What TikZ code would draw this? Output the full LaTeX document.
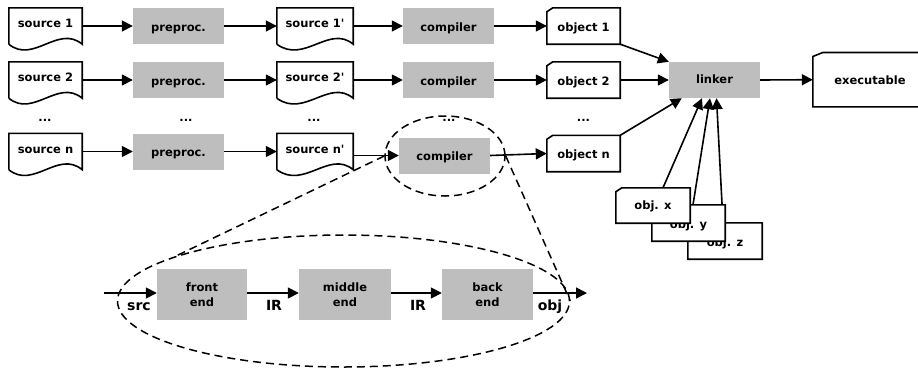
\documentclass[tikz,border=0pt]{standalone}
\usepackage{fontspec}
\setmainfont{DejaVu Sans}
\usetikzlibrary{arrows.meta,shapes.geometric}
\definecolor{procgray}{RGB}{190,190,190}
\pgfdeclarelayer{background}
\pgfsetlayers{background,main}
\newcommand\docoutline[1]{\draw[outl] (#1.south west) -- (#1.north west) -- (#1.north east) -- (#1.south east) .. controls ([shift={(-24pt,20pt)}]#1.south east) and ([shift={(-49pt,-20pt)}]#1.south east) .. (#1.south west);}
\newcommand\objoutline[3]{\draw[outl] ([yshift=-#3]#1.north west) -- ([xshift=#2]#1.north west) -- (#1.north east) -- (#1.south east) -- (#1.south west) -- cycle;}
\begin{document}
\begin{tikzpicture}[x=1pt,y=-1pt,
  txt/.style={font=\fontsize{11.5}{14.7}\selectfont\bfseries},
  proc/.style={txt, fill=procgray, minimum width=91pt, minimum height=36pt, inner sep=0pt, text height=11pt, text depth=1pt},
  doc/.style={txt, minimum width=73pt, minimum height=36pt, inner sep=0pt, text height=6pt, text depth=2.4pt},
  obj/.style={txt, fill=white, minimum width=73pt, minimum height=36pt, inner sep=0pt, text height=11pt, text depth=1pt},
  stage/.style={txt, fill=procgray, minimum width=90pt, minimum height=51pt, inner sep=0pt, align=center},
  lbl/.style={font=\fontsize{14}{16}\selectfont\bfseries, anchor=base, inner sep=0pt},
  dots/.style={txt, anchor=base, inner sep=0pt},
  arr/.style={line width=1.6pt, -{Triangle[length=11pt,width=11pt]}},
  outl/.style={line width=1.6pt},
  dsh/.style={line width=1.5pt, dash pattern=on 8pt off 5pt},
  ell/.style={ellipse, dsh, draw, inner sep=0pt}]
\useasboundingbox (0,0) rectangle (918,368);

% zoom ellipses
\node[ell, minimum width=120pt, minimum height=80pt] (sell) at (445,156) {};
\node[ell, minimum width=452pt, minimum height=132pt] (bell) at (343.5,301) {};
\draw[dsh] (sell.west) -- (bell.165);
\draw[dsh] (sell.east) -- (bell.east);

% sources
\node[doc] (s1) at (45.5,26) {source 1};
\docoutline{s1}
\node[doc] (s2) at (45.5,80) {source 2};
\docoutline{s2}
\node[doc] (sn) at (45.5,151.5) {source n};
\docoutline{sn}

% preprocessors
\node[proc] (p1) at (178.5,26) {preproc.};
\node[proc] (p2) at (178.5,80) {preproc.};
\node[proc] (pn) at (178.5,151.5) {preproc.};

% preprocessed sources
\node[doc, minimum width=76pt] (t1) at (315,26) {source 1\textquotesingle};
\docoutline{t1}
\node[doc, minimum width=76pt] (t2) at (315,80) {source 2\textquotesingle};
\docoutline{t2}
\node[doc, minimum width=76pt] (tn) at (315,151.5) {source n\textquotesingle};
\docoutline{tn}

% compilers
\node[proc] (c1) at (448.5,26) {compiler};
\node[proc] (c2) at (448.5,80) {compiler};
\node[proc] (cn) at (444.5,155.5) {compiler};

% objects
\node[obj] (o1) at (583.5,26) {object 1};
\objoutline{o1}{6pt}{4pt}
\node[obj] (o2) at (583.5,80) {object 2};
\objoutline{o2}{6pt}{4pt}
\node[obj] (on) at (583.5,153.5) {object n};
\objoutline{on}{6pt}{4pt}

% linker & executable
\node[proc, text height=9pt, text depth=1.8pt] (lk) at (714.5,80) {linker};
\node[obj, minimum width=114pt, minimum height=54pt] (ex) at (870,79.7) {executable};
\objoutline{ex}{10pt}{4pt}

% extra objects
\node[obj, minimum width=74pt, minimum height=36pt] (oz) at (725,241) {obj. z};
\objoutline{oz}{6pt}{4pt}
\node[obj, minimum width=73pt, minimum height=36pt] (oy) at (688.5,223) {obj. y};
\objoutline{oy}{6pt}{4pt}
\node[obj, minimum width=74pt, minimum height=35pt, text height=9pt, text depth=1.4pt] (ox) at (653,205.5) {obj. x};
\objoutline{ox}{6pt}{4pt}

% dots
\node[dots] (d1) at (45,121) {...};
\node[dots] (d2) at (186,121) {...};
\node[dots] (d3) at (314,121) {...};
\node[dots] (d4) at (449,121) {...};
\node[dots] (d5) at (583.5,121) {...};

% row arrows
\draw[arr] (s1.east) -- (p1.west);
\draw[arr] (s2.east) -- (p2.west);
\draw[arr] (sn.east) -- (pn.west);
\draw[arr] (p1.east) -- (t1.west);
\draw[arr] (p2.east) -- (t2.west);
\draw[arr] (pn.east) -- (tn.west);
\draw[arr] (t1.east) -- (c1.west);
\draw[arr] (t2.east) -- (c2.west);
\draw[arr] (tn.east |- cn.west) -- (cn.west);
\draw[arr] (c1.east) -- (o1.west);
\draw[arr] (c2.east) -- (o2.west);
\draw[arr] (cn.east) -- (on.west);
\draw[arr] (o1.south east) -- (lk.north west);
\draw[arr] (o2.east) -- (lk.west);
\draw[arr] (on.north east) -- ([xshift=13pt]lk.south west);
\draw[arr] (lk.east) -- (ex.west);
\begin{pgfonlayer}{background}
\draw[arr] ([xshift=10pt]ox.north) -- ([xshift=-12.5pt]lk.south);
\draw[arr] ([xshift=4.5pt]oy.north) -- ([xshift=-4.5pt]lk.south);
\draw[arr] ([xshift=-2pt]oz.north) -- ([xshift=2pt]lk.south);
\end{pgfonlayer}

% compiler internals
\node[stage] (fe) at (202,294.5) {front\\end};
\node[stage, minimum width=92pt] (me) at (345,294.5) {middle\\end};
\node[stage, minimum width=91pt] (bk) at (487.5,294.5) {back\\end};
\coordinate (in) at (104,293);
\coordinate (out) at (587,293);
\draw[arr] (in) -- (in -| fe.west);
\draw[arr] (fe.east |- in) -- (me.west |- in);
\draw[arr] (me.east |- in) -- (bk.west |- in);
\draw[arr] (bk.east |- in) -- (out);
\node[lbl] (lsrc) at (139,310.7) {src};
\node[lbl] (lir1) at (274,310.7) {IR};
\node[lbl] (lir2) at (418,310.7) {IR};
\node[lbl] (lobj) at (550,310.7) {obj};
\end{tikzpicture}
\end{document}
